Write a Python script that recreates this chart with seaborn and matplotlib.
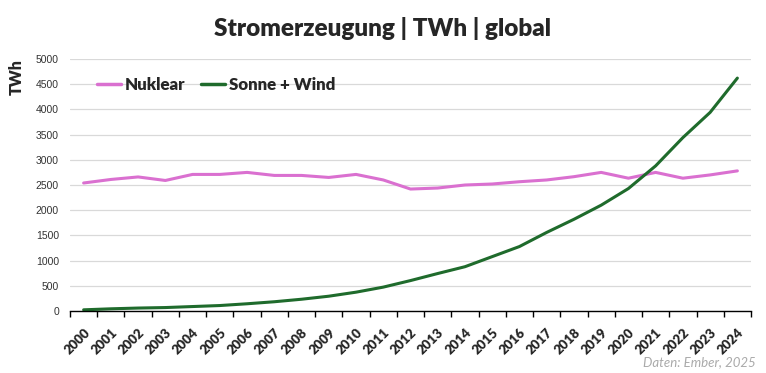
import numpy as np
import pandas as pd
import matplotlib
matplotlib.use("Agg")
import matplotlib.pyplot as plt
import seaborn as sns

# --- data ---
years = list(range(2000, 2025))
nuklear = [2540, 2610, 2660, 2590, 2710, 2710, 2750, 2690, 2690, 2650, 2710,
           2600, 2420, 2440, 2500, 2520, 2565, 2600, 2665, 2750, 2635, 2750,
           2635, 2700, 2780]
sonne_wind = [25, 45, 60, 70, 90, 110, 145, 185, 235, 295, 375,
              475, 605, 745, 880, 1080, 1280, 1560, 1820, 2100, 2430, 2880,
              3440, 3940, 4620]
series_names = ["Nuklear", "Sonne + Wind"]
colors = {"Nuklear": "#DA70D0", "Sonne + Wind": "#1F6B2C"}

df = pd.DataFrame({
    "pos": list(range(len(years))) * 2,
    "TWh": nuklear + sonne_wind,
    "Serie": [series_names[0]] * len(years) + [series_names[1]] * len(years),
})

sns.set_theme(style="white")
plt.rcParams["font.family"] = ["Lato", "DejaVu Sans"]

fig = plt.figure(figsize=(7.66, 3.73), dpi=100)
ax = fig.add_axes([0.0914, 0.166, 0.889, 0.676])

sns.lineplot(data=df, x="pos", y="TWh", hue="Serie", palette=colors,
             linewidth=2.2, ax=ax)

ax.set_xlim(-0.5, len(years) - 0.5)
ax.set_ylim(0, 5000)
ax.set_yticks(np.arange(0, 5001, 500))
ax.yaxis.grid(True, color="#d9d9d9", linewidth=0.9)
ax.set_axisbelow(True)

for s in ["top", "right", "left"]:
    ax.spines[s].set_visible(False)
ax.spines["bottom"].set_color("black")
ax.spines["bottom"].set_linewidth(1.0)

# year labels at category centres, tick marks on category boundaries
ax.set_xticks(range(len(years)))
ax.set_xticklabels([str(y) for y in years], rotation=45, ha="right",
                   rotation_mode="anchor", fontsize=9.5, fontweight="heavy")
ax.set_xticks(np.arange(-0.5, len(years)), minor=True)
ax.tick_params(axis="x", which="major", length=0, pad=11)
ax.tick_params(axis="x", which="minor", length=4, width=1, color="black", bottom=True)
ax.tick_params(axis="y", length=0, pad=8)
for lbl in ax.get_yticklabels():
    lbl.set_fontfamily("Liberation Sans")
    lbl.set_fontsize(7.5)
    lbl.set_color("#333333")

ax.set_xlabel("")
ax.set_ylabel("TWh", fontsize=11.5, fontweight="heavy", loc="top", labelpad=8)

leg = ax.legend(loc="upper left", bbox_to_anchor=(0.017, 0.99), ncol=2, frameon=False,
                prop={"weight": "heavy", "size": 12.2}, handlelength=1.45,
                handletextpad=0.2, columnspacing=0.9)
for line in leg.get_lines():
    line.set_linewidth(2.5)

fig.suptitle("Stromerzeugung | TWh | global", fontsize=17.5, fontweight="heavy",
             x=0.5, y=0.955)
fig.text(0.987, 0.012, "Daten: Ember, 2025", ha="right", va="bottom",
         fontsize=9.5, style="italic", color="#aaaaaa")

fig.savefig("out.png", dpi=100)
